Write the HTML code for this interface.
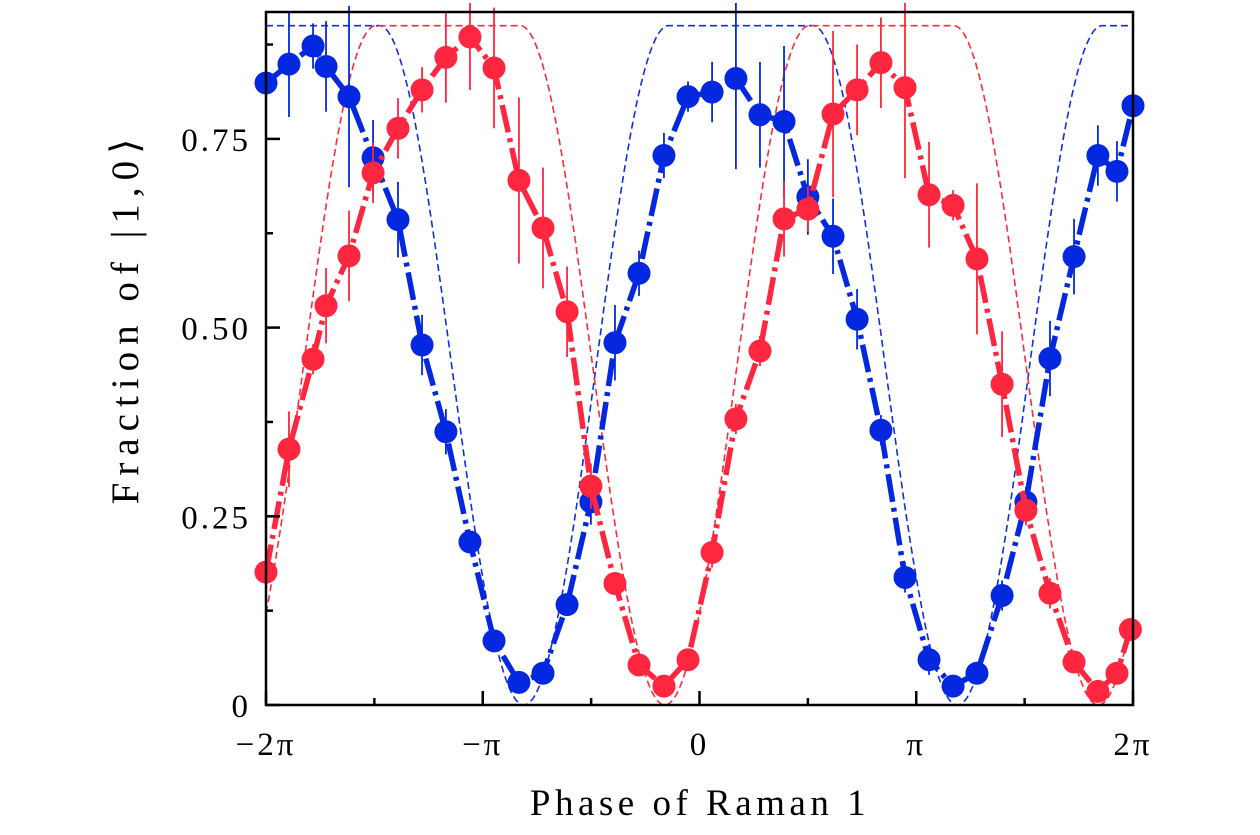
<!DOCTYPE html>
<html><head><meta charset="utf-8"><style>
html,body{margin:0;padding:0;background:#fff}
svg{display:block;font-family:"Liberation Serif",serif}
</style></head><body>
<svg id="chart" width="1260" height="835" viewBox="0 0 1260 835" xmlns="http://www.w3.org/2000/svg">
<g id="fits"></g>
<g id="series"></g>
<rect x="266" y="12" width="867" height="693" fill="none" stroke="#000" stroke-width="2.5"/>
<g id="axes"></g>
<text x="700" y="815" font-size="37" letter-spacing="4.5" text-anchor="middle">Phase of Raman 1</text>
<text transform="translate(138,318) rotate(-90)" font-size="39" letter-spacing="7" text-anchor="middle">Fraction of |1,0⟩</text>
</svg>
<script>
// x values in units of pi
const blueX = [-2,-1.894,-1.783,-1.723,-1.617,-1.506,-1.391,-1.280,-1.170,-1.059,-0.948,-0.833,-0.722,-0.611,-0.501,-0.390,-0.279,-0.164,-0.053,0.058,0.168,0.279,0.390,0.500,0.616,0.727,0.837,0.948,1.059,1.170,1.280,1.396,1.506,1.617,1.728,1.838,1.926,2.0];
const blueY = [0.824,0.849,0.873,0.846,0.806,0.725,0.643,0.477,0.362,0.216,0.085,0.030,0.042,0.133,0.269,0.480,0.572,0.728,0.806,0.812,0.830,0.782,0.773,0.673,0.621,0.511,0.364,0.169,0.060,0.025,0.042,0.145,0.269,0.459,0.594,0.728,0.707,0.794];
const blueErr = [0.06,0.07,0.03,0.06,0.12,0.05,0.05,0.04,0.03,0.01,0.01,0.01,0.01,0.01,0.03,0.05,0.03,0.03,0.02,0.04,0.12,0.07,0.1,0.05,0.05,0.04,0.02,0.02,0.02,0.01,0.01,0.02,0.02,0.05,0.05,0.04,0.04,0.04];
const redX = [-2,-1.894,-1.783,-1.723,-1.617,-1.506,-1.391,-1.280,-1.170,-1.059,-0.948,-0.833,-0.722,-0.611,-0.501,-0.390,-0.279,-0.164,-0.053,0.058,0.168,0.279,0.390,0.500,0.616,0.727,0.837,0.948,1.059,1.170,1.280,1.396,1.506,1.617,1.728,1.838,1.926,1.988];
const redY = [0.176,0.339,0.458,0.529,0.595,0.705,0.764,0.815,0.858,0.885,0.844,0.695,0.632,0.521,0.290,0.161,0.053,0.025,0.060,0.202,0.379,0.469,0.644,0.657,0.783,0.815,0.851,0.818,0.676,0.662,0.591,0.425,0.258,0.148,0.057,0.018,0.042,0.100];
const redErr = [0.02,0.05,0.02,0.05,0.06,0.04,0.04,0.03,0.06,0.07,0.08,0.11,0.08,0.06,0.03,0.01,0.01,0.01,0.01,0.02,0.02,0.02,0.05,0.03,0.11,0.06,0.06,0.12,0.07,0.02,0.10,0.07,0.02,0.02,0.01,0.01,0.01,0.01];
const fitMinBlue = -0.81;
const fitMinRed = -0.16;
const fitAmp = 0.9;
const xTicks = [-2,-1,0,1,2];
const xTickLabels = ["−2π","−π","0","π","2π"];
const yTicks = [0,0.25,0.5,0.75];
const yTickLabels = ["0","0.25","0.50","0.75"];

const NS="http://www.w3.org/2000/svg";
const X0=266,X1=1133,Y0=705,Y1=12;
const xs = v => X0 + (v+2)/4*(X1-X0);
const ys = v => Y0 - v/0.25*188.7;
function mk(tag,attrs,parent){const e=document.createElementNS(NS,tag);for(const k in attrs)e.setAttribute(k,attrs[k]);parent.appendChild(e);return e;}
const fits=document.getElementById('fits'), series=document.getElementById('series'), axes=document.getElementById('axes');

function fitVal(p,m){let d=((p-m)%2+3)%2-1;d=Math.abs(d)*Math.PI;const s=Math.sin(Math.min(Math.PI/2,0.75*d));return fitAmp*s*s;}
[[fitMinBlue,'#1030e0','fit-blue'],[fitMinRed,'#ff2a3a','fit-red']].forEach(([m,c,n])=>{
  let d='';for(let i=0;i<=800;i++){const p=-2+4*i/800;d+=(i?'L':'M')+xs(p).toFixed(1)+','+ys(fitVal(p,m)).toFixed(1);}
  const e=mk('path',{d:d,fill:'none',stroke:c,'stroke-width':1.6,'stroke-dasharray':'7,4'},fits);
  
  
});

function drawSeries(X,Y,E,col,name){
  const g=mk('g',{},series);
  
  
  let d='';X.forEach((x,i)=>{d+=(i?'L':'M')+xs(x).toFixed(1)+','+ys(Y[i]).toFixed(1);});
  const l=mk('path',{d:d,fill:'none',stroke:col,'stroke-width':5.5,'stroke-dasharray':'28,6,4,6'},g);
  
  
  X.forEach((x,i)=>{
    const eb=mk('line',{x1:xs(x),x2:xs(x),y1:ys(Math.min(Y[i]+E[i],0.93)),y2:ys(Y[i]-E[i]),stroke:col,'stroke-width':1.8},g);
    
    
    const c=mk('circle',{cx:xs(x),cy:ys(Y[i]),r:11.5,fill:col},g);
    
    
  });
}
drawSeries(blueX,blueY,blueErr,'#0428e0','blue');
drawSeries(redX,redY,redErr,'#ff2640','red');

xTicks.forEach((t,i)=>{
  const tk=mk('line',{x1:xs(t),x2:xs(t),y1:Y0,y2:Y0-14,stroke:'#000','stroke-width':2.5},axes);
  
  
  const tx=mk('text',{x:xs(t),y:755,'font-size':33,'letter-spacing':3,'text-anchor':'middle'},axes);
  tx.textContent=xTickLabels[i];
  
  
  if(i<xTicks.length-1){
    const m=mk('line',{x1:xs(t+0.5),x2:xs(t+0.5),y1:Y0,y2:Y0-7,stroke:'#000','stroke-width':2.5},axes);
    
    
  }
});
yTicks.forEach((t,i)=>{
  const tk=mk('line',{x1:X0,x2:X0+14,y1:ys(t),y2:ys(t),stroke:'#000','stroke-width':2.5},axes);
  
  
  const m=mk('line',{x1:X0,x2:X0+7,y1:ys(t+0.125),y2:ys(t+0.125),stroke:'#000','stroke-width':2.5},axes);
  
  
  const tx=mk('text',{x:251,y:ys(t)+12,'font-size':33,'letter-spacing':3,'text-anchor':'end'},axes);
  tx.textContent=yTickLabels[i];
  
  
});
</script>
</body></html>
